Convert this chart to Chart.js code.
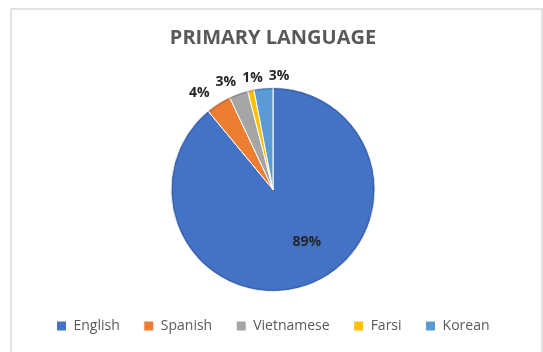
<!DOCTYPE html>
<html>
<head>
<meta charset="utf-8">
<script src="https://cdn.jsdelivr.net/npm/chart.js@4.4.1/dist/chart.umd.min.js"></script>
<style>
  html, body { margin: 0; padding: 0; background: #fff; }
  #wrap { position: relative; width: 543px; height: 352px; }
</style>
</head>
<body>
<div id="wrap"><canvas id="langChart"></canvas></div>
<script>
const languages = ['English', 'Spanish', 'Vietnamese', 'Farsi', 'Korean'];
const shares = [89, 4, 3, 1, 3];
const sliceColors = ['#4472C4', '#ED7D31', '#A5A5A5', '#FFC000', '#5B9BD5'];

const baseFont = "'Open Sans', sans-serif";

// thin grey frame behind the chart
const framePlugin = {
  id: 'frame',
  beforeDraw(chart) {
    const ctx = chart.ctx;
    ctx.save();
    ctx.strokeStyle = '#dadada';
    ctx.lineWidth = 1.5;
    ctx.strokeRect(11, 9, 531, chart.height + 10);
    ctx.restore();
  }
};

// fixed legend height so the pie keeps its size, items nudged down a little
const legendFit = {
  id: 'legendFit',
  beforeLayout(chart, args, opts) {
    const legend = chart.legend;
    if (!legend || legend._fitPatched) return;
    const fit = legend.fit;
    legend.fit = function () {
      fit.call(this);
      this.height = opts.height;
    };
    legend._fitPatched = true;
  },
  afterLayout(chart, args, opts) {
    chart.legend.top += opts.shift;
    chart.legend.bottom += opts.shift;
  }
};

// percentage labels: big slices inside, small ones outside, spread so they don't overlap
const percentLabels = {
  id: 'percentLabels',
  afterDatasetsDraw(chart, args, opts) {
    const ctx = chart.ctx;
    const meta = chart.getDatasetMeta(0);
    const values = chart.data.datasets[0].data;
    ctx.save();

    // soft edge around the pie
    const first = meta.data[0].getProps(['x', 'y', 'outerRadius'], true);
    ctx.strokeStyle = 'rgba(20, 40, 90, 0.18)';
    ctx.lineWidth = 2;
    ctx.beginPath();
    ctx.arc(first.x, first.y, first.outerRadius - 1, 0, Math.PI * 2);
    ctx.stroke();

    ctx.font = opts.font;
    ctx.fillStyle = opts.color;
    ctx.textAlign = 'center';
    ctx.textBaseline = 'middle';
    const outside = [];
    meta.data.forEach((arc, i) => {
      const p = arc.getProps(['x', 'y', 'startAngle', 'endAngle', 'outerRadius'], true);
      const mid = (p.startAngle + p.endAngle) / 2;
      const text = values[i] + '%';
      if (values[i] >= 10) {
        const a = mid + opts.insideShift;
        const r = p.outerRadius * 0.61;
        ctx.fillText(text, p.x + Math.cos(a) * r, p.y + Math.sin(a) * r);
      } else {
        const r = p.outerRadius + opts.offset;
        outside.push({
          text,
          x: p.x + Math.cos(mid) * r,
          y: p.y + Math.sin(mid) * r,
          w: ctx.measureText(text).width
        });
      }
    });
    outside.sort((a, b) => a.x - b.x);
    const groups = [];
    outside.forEach(l => {
      const g = groups[groups.length - 1];
      const last = g && g[g.length - 1];
      if (last && l.x - last.x < (l.w + last.w) / 2 + opts.gap) g.push(l);
      else groups.push([l]);
    });
    groups.forEach(g => {
      const span = g.reduce((s, l) => s + l.w, 0) + opts.gap * (g.length - 1);
      const mean = g.reduce((s, l) => s + l.x, 0) / g.length;
      let cur = mean - span / 2;
      g.forEach(l => { l.x = cur + l.w / 2; cur += l.w + opts.gap; });
    });
    outside.forEach(l => ctx.fillText(l.text, l.x, l.y));
    ctx.restore();
  }
};

new Chart(document.getElementById('langChart'), {
  type: 'pie',
  data: {
    labels: languages,
    datasets: [{
      data: shares,
      backgroundColor: sliceColors,
      borderColor: '#ffffff',
      borderWidth: 1
    }]
  },
  options: {
    responsive: true,
    maintainAspectRatio: false,
    animation: false,
    layout: { padding: { top: 0, left: 3, right: 0, bottom: 0 } },
    plugins: {
      title: {
        display: true,
        text: 'PRIMARY LANGUAGE',
        color: '#595959',
        font: { family: baseFont, size: 20, weight: 'bold' },
        padding: { top: 26, bottom: 37 }
      },
      legend: {
        position: 'bottom',
        labels: {
          color: '#595959',
          font: { family: baseFont, size: 14 },
          boxWidth: 10,
          boxHeight: 10,
          padding: 24
        }
      },
      legendFit: { height: 60, shift: 3 },
      tooltip: { enabled: false },
      percentLabels: {
        font: 'bold 14px ' + baseFont,
        color: '#262626',
        offset: 12,
        gap: 6,
        insideShift: -0.23
      }
    }
  },
  plugins: [framePlugin, legendFit, percentLabels]
});
</script>
</body>
</html>
